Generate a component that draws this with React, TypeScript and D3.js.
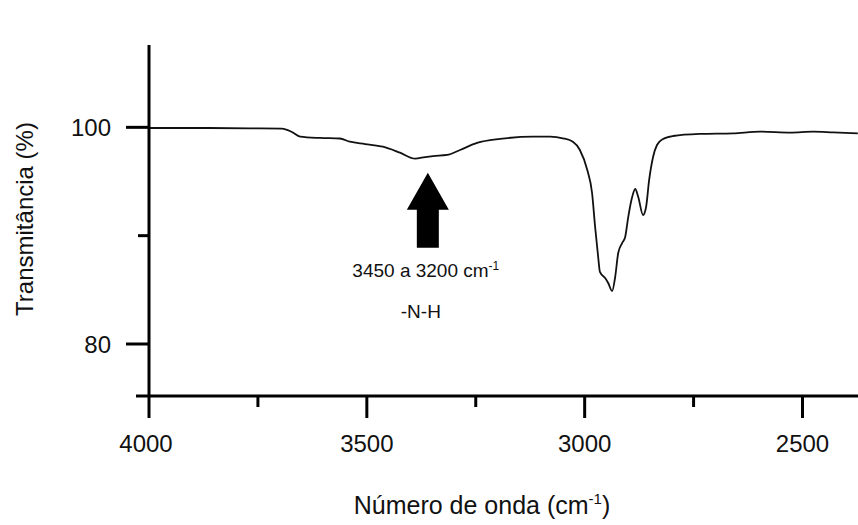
import React from "react";
import * as d3 from "d3";

const wavenumber = [4000, 3883, 3768, 3695, 3672, 3653, 3607, 3562, 3539, 3504, 3463, 3424, 3389, 3366, 3348, 3316, 3286, 3247, 3194, 3118, 3079, 3050, 3027, 3011, 2994, 2983, 2976, 2969, 2965, 2953, 2946, 2937, 2930, 2923, 2914, 2907, 2900, 2891, 2884, 2877, 2866, 2859, 2852, 2843, 2834, 2820, 2797, 2735, 2659, 2597, 2528, 2476, 2430, 2373];
const transmittance = [99.94, 99.94, 99.91, 99.89, 99.57, 99.14, 99.02, 98.97, 98.67, 98.46, 98.21, 97.66, 97.11, 97.26, 97.35, 97.45, 97.91, 98.56, 98.93, 99.14, 99.14, 98.99, 98.67, 97.91, 96.06, 93.94, 90.8, 88.03, 86.65, 86.09, 85.63, 84.89, 86.18, 88.4, 89.32, 89.88, 91.72, 93.57, 94.31, 93.57, 91.91, 92.65, 95.14, 97.26, 98.37, 98.93, 99.2, 99.39, 99.45, 99.6, 99.51, 99.6, 99.54, 99.45];

const xMajorTicks = [4000, 3500, 3000, 2500];
const xMinorTicks = [3750, 3250, 2750];
const yMajorTicks = [100, 80];
const yMinorTicks = [90];

const annotationWave = 3360;
const annotationLabel = "3450 a 3200 cm";
const annotationGroup = "-N-H";

export default function App() {
  const W = 858;
  const H = 525;
  const x = d3.scaleLinear().domain([4000, 2500]).range([149, 802.5]);
  const y = d3.scaleLinear().domain([75.2, 107.6]).range([396, 45]);
  const font = "'Liberation Sans', Arial, sans-serif";

  const pts = wavenumber.map((w, i) => [w, transmittance[i]] as [number, number]);
  const line = d3
    .line<[number, number]>()
    .x((d) => x(d[0]))
    .y((d) => y(d[1]))
    .curve(d3.curveMonotoneX);

  const ax = x(annotationWave);
  const tipY = y(95.8);
  const headY = tipY + 37;
  const baseY = tipY + 75;
  const arrow = [
    [ax, tipY],
    [ax + 21, headY],
    [ax + 11, headY],
    [ax + 11, baseY],
    [ax - 11, baseY],
    [ax - 11, headY],
    [ax - 21, headY],
  ]
    .map((p) => p.join(","))
    .join(" ");

  const x0 = x(4000);
  const yBase = y(75.2);

  return (
    <svg
      width={W}
      height={H}
      style={{ position: "absolute", left: 0, top: 0, background: "#fff" }}
      fontFamily={font}
    >
      <rect x={0} y={0} width={W} height={H} fill="#fff" />
      <path d={line(pts) || ""} fill="none" stroke="#111" strokeWidth={1.8} />

      {/* axes */}
      <line x1={x0} x2={x0} y1={45} y2={yBase} stroke="#000" strokeWidth={3} />
      <line x1={136} x2={W} y1={yBase} y2={yBase} stroke="#000" strokeWidth={3} />

      {xMajorTicks.map((t) => (
        <g key={"xM" + t}>
          <line x1={x(t)} x2={x(t)} y1={yBase} y2={yBase + 22} stroke="#000" strokeWidth={3} />
          <text x={x(t) - (t === 4000 ? 3 : 0)} y={452} textAnchor="middle" fontSize={24} fill="#111">
            {t}
          </text>
        </g>
      ))}
      {xMinorTicks.map((t) => (
        <line key={"xm" + t} x1={x(t)} x2={x(t)} y1={yBase} y2={yBase + 11} stroke="#000" strokeWidth={3} />
      ))}

      {yMajorTicks.map((t) => (
        <g key={"yM" + t}>
          <line x1={x0 - 23} x2={x0} y1={y(t)} y2={y(t)} stroke="#000" strokeWidth={3} />
          <text x={111} y={y(t)} dy="0.36em" textAnchor="end" fontSize={24} fill="#111">
            {t}
          </text>
        </g>
      ))}
      {yMinorTicks.map((t) => (
        <line key={"ym" + t} x1={x0 - 11} x2={x0} y1={y(t)} y2={y(t)} stroke="#000" strokeWidth={3} />
      ))}

      {/* axis titles */}
      <text x={482} y={514} textAnchor="middle" fontSize={25} fill="#111">
        Número de onda (cm
        <tspan fontSize={15} dy={-10}>-1</tspan>
        <tspan dy={10}>)</tspan>
      </text>
      <text
        transform={`translate(33,219) rotate(-90)`}
        textAnchor="middle"
        fontSize={24}
        fill="#111"
      >
        Transmitância (%)
      </text>

      {/* annotation */}
      <polygon points={arrow} fill="#000" />
      <text x={ax - 2} y={277} textAnchor="middle" fontSize={19} fill="#111">
        {annotationLabel}
        <tspan fontSize={12} dy={-7}>-1</tspan>
      </text>
      <text x={ax - 7} y={318} textAnchor="middle" fontSize={19} fill="#111">
        {annotationGroup}
      </text>
    </svg>
  );
}
